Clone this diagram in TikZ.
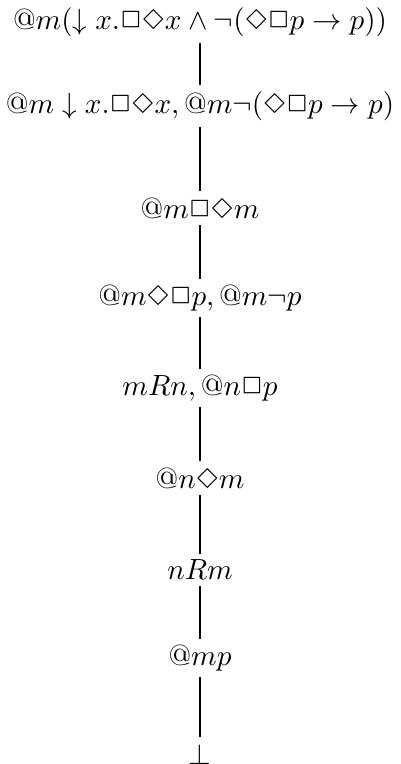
\documentclass[tikz,border=0pt]{standalone}
\usepackage{latexsym}

\begin{document}
\begin{tikzpicture}[x=0.343pt, y=-0.343pt, every node/.style={inner sep=2pt}]
  \useasboundingbox (0,0) rectangle (400,764);
  \node (n1) at (200,22) {$@m(\downarrow x.\Box\Diamond x \wedge \neg(\Diamond\Box p \to p))$};
  \node (n2) at (200,106) {$@m\downarrow x.\Box\Diamond x, @m\neg(\Diamond\Box p \to p)$};
  \node (n3) at (200,208) {$@m\Box\Diamond m$};
  \node (n4) at (200,298) {$@m\Diamond\Box p, @m\neg p$};
  \node (n5) at (200,388) {$mRn, @n\Box p$};
  \node (n6) at (200,478) {$@n\Diamond m$};
  \node (n7) at (200,570) {$nRm$};
  \node (n8) at (200,658) {$@mp$};
  \node (n9) at (200,754) {$\bot$};
  \foreach \a/\b in {n1/n2, n2/n3, n3/n4, n4/n5, n5/n6, n6/n7, n7/n8, n8/n9}
    \draw[semithick] (\a) -- (\b);
\end{tikzpicture}
\end{document}
